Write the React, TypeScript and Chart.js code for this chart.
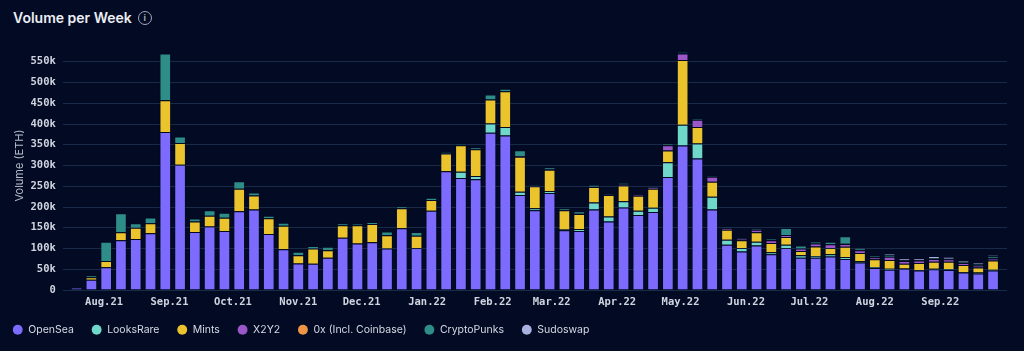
import { useEffect, useRef } from 'react';
import { Chart, registerables } from 'chart.js';

Chart.register(...registerables);

// Weekly bars, first week starting Monday 2021-07-19 (values in thousands of ETH)
const firstWeek = '2021-07-19';

const monthTickDates = [
  '2021-08-01', '2021-09-01', '2021-10-01', '2021-11-01', '2021-12-01',
  '2022-01-01', '2022-02-01', '2022-03-01', '2022-04-01', '2022-05-01',
  '2022-06-01', '2022-07-01', '2022-08-01', '2022-09-01',
];
const monthTickLabels = [
  'Aug.21', 'Sep.21', 'Oct.21', 'Nov.21', 'Dec.21',
  'Jan.22', 'Feb.22', 'Mar.22', 'Apr.22', 'May.22',
  'Jun.22', 'Jul.22', 'Aug.22', 'Sep.22',
];

const yTickValues = [0, 50, 100, 150, 200, 250, 300, 350, 400, 450, 500, 550];

const openSea = [
  6, 25, 55, 120, 123, 137, 381, 302, 140, 153,
  142, 190, 194, 135, 98, 64, 63, 78, 126, 112,
  115, 100, 149, 101, 191, 286, 270, 267, 379, 372,
  229, 192, 234, 144, 142, 194, 165, 199, 181, 188,
  272, 348, 317, 194, 109, 93, 107, 86, 101, 78,
  78, 81, 75, 66, 53, 49, 51, 47, 50, 48,
  42, 40, 47,
];
const looksRare = [
  0, 0, 0, 0, 0, 0, 0, 0, 0, 0,
  0, 0, 0, 0, 0, 0, 0, 0, 0, 0,
  0, 0, 0, 0, 0, 0, 15, 8, 22, 21,
  8, 5, 4, 2, 5, 17, 12, 15, 10, 10,
  36, 50, 36, 31, 12, 8, 9, 5, 8, 6,
  4, 5, 4, 3, 2, 2, 1, 1, 1, 2,
  1, 2, 2,
];
const mints = [
  0, 6, 15, 19, 27, 24, 76, 52, 25, 26,
  32, 54, 34, 38, 57, 20, 37, 18, 30, 44,
  44, 32, 48, 30, 26, 43, 64, 64, 58, 86,
  84, 53, 52, 46, 36, 37, 52, 38, 36, 46,
  28, 156, 40, 36, 24, 19, 23, 22, 19, 10,
  23, 15, 25, 20, 19, 21, 11, 17, 17, 18,
  17, 12, 22,
];
const x2y2 = [
  0, 0, 0, 0, 0, 0, 0, 0, 0, 0,
  0, 0, 0, 0, 0, 0, 0, 0, 0, 0,
  0, 0, 0, 0, 0, 0, 0, 0, 0, 0,
  1, 1, 1, 1, 1, 1, 1, 2, 3, 3,
  13, 16, 17, 12, 4, 3, 6, 7, 4, 6,
  7, 9, 7, 7, 5, 8, 7, 6, 7, 6,
  5, 5, 5,
];
const zeroX = [
  0, 0, 0, 0, 0, 0, 0, 0, 0, 0,
  0, 0, 0, 0, 0, 0, 0, 0, 0, 0,
  0, 0, 0, 0, 0, 0, 0, 0, 0, 0,
  0, 0, 0, 0, 0, 0, 0, 0, 0, 0,
  0.3, 0.3, 0.3, 0.3, 0.3, 0.3, 0.3, 0.3, 0.3, 0.3,
  0.3, 0.3, 0.3, 0.3, 0.3, 0.3, 0.3, 0.3, 0.3, 0.3,
  0.3, 0.3, 0.3,
];
const cryptoPunks = [
  0, 4, 46, 46, 11, 14, 113, 16, 7, 13,
  12, 18, 7, 6, 7, 8, 6, 8, 5, 4,
  5, 9, 5, 9, 5, 3, 2, 5, 12, 6,
  15, 2, 5, 3, 6, 4, 2, 4, 1, 2,
  3, 3, 2, 3, 2, 2, 2, 3, 17, 7,
  4, 6, 18, 4, 3, 4, 2, 1, 2, 1,
  2, 3, 5,
];
const sudoswap = [
  0, 0, 0, 0, 0, 0, 0, 0, 0, 0,
  0, 0, 0, 0, 0, 0, 0, 0, 0, 0,
  0, 0, 0, 0, 0, 0, 0, 0, 0, 0,
  0, 0, 0, 0, 0, 0, 0, 0, 0, 0,
  0, 0, 0, 0, 0, 0, 0, 0, 0, 0,
  0, 0, 0, 1, 1, 3, 4, 4, 4, 5,
  3, 3, 3,
];

const seriesNames = ['OpenSea', 'LooksRare', 'Mints', 'X2Y2', '0x (Incl. Coinbase)', 'CryptoPunks', 'Sudoswap'];
const seriesValues = [openSea, looksRare, mints, x2y2, zeroX, cryptoPunks, sudoswap];
const seriesColors = ['#7c6bfd', '#6fd8cb', '#ebc32d', '#9b56c8', '#ee9545', '#2f8d87', '#a9b1df'];

const DAY_MS = 86400000;
const dayOffset = (iso: string) =>
  (Date.parse(iso + 'T00:00:00Z') - Date.parse(firstWeek + 'T00:00:00Z')) / DAY_MS;

export default function App() {
  const canvasRef = useRef<HTMLCanvasElement | null>(null);

  useEffect(() => {
    const canvas = canvasRef.current;
    if (!canvas) return;
    const weekDays = openSea.map((_, i) => i * 7);
    const tickFont = { family: '"DejaVu Sans Mono", monospace', size: 10.5, weight: 'bold' as const };

    const chart = new Chart(canvas, {
      type: 'bar',
      data: {
        labels: weekDays,
        datasets: seriesNames.map((name, k) => ({
          label: name,
          data: seriesValues[k],
          backgroundColor: seriesColors[k],
          borderColor: 'rgba(2, 10, 34, 0.35)',
          borderWidth: 1,
          categoryPercentage: 1,
          barPercentage: 0.79,
        })),
      },
      options: {
        animation: false,
        responsive: false,
        devicePixelRatio: 1,
        layout: { padding: { left: -5, right: 17, top: 41, bottom: 6 } },
        plugins: {
          tooltip: { enabled: false },
          legend: {
            position: 'bottom',
            align: 'start',
            labels: {
              usePointStyle: true,
              pointStyle: 'circle',
              boxWidth: 12,
              boxHeight: 7,
              padding: 17.5,
              color: '#d6dae6',
              font: { family: 'Inter, "Noto Sans", sans-serif', size: 10.5 },
              generateLabels: (c: any) =>
                Chart.defaults.plugins.legend.labels
                  .generateLabels(c)
                  .map((l: any) => ({ ...l, lineWidth: 0, strokeStyle: 'rgba(0,0,0,0)' })),
            },
          },
        },
        scales: {
          x: {
            type: 'linear',
            offset: false,
            stacked: true,
            min: -6.3,
            max: 440.6,
            grid: { display: false, drawTicks: false },
            border: { display: false },
            afterBuildTicks: (scale: any) => {
              scale.ticks = monthTickDates.map((d) => ({ value: dayOffset(d) }));
            },
            afterFit: (scale: any) => {
              scale.height = 17;
            },
            ticks: {
              autoSkip: false,
              maxRotation: 0,
              padding: 5.5,
              color: '#d0d4e0',
              font: tickFont,
              callback: (_v: any, i: number) => monthTickLabels[i],
            },
          },
          y: {
            stacked: true,
            min: 0,
            max: 600,
            grid: { color: '#172a48', lineWidth: 1, drawTicks: false },
            border: { display: false },
            afterBuildTicks: (scale: any) => {
              scale.ticks = yTickValues.map((v) => ({ value: v }));
            },
            afterFit: (scale: any) => {
              scale.width = 68.3;
            },
            title: {
              display: true,
              text: 'Volume (ETH)',
              color: '#b9bdcc',
              font: { family: 'Inter, "Noto Sans", sans-serif', size: 11 },
              padding: { top: 18, bottom: 0 },
            },
            ticks: {
              padding: 7.5,
              color: '#d0d4e0',
              font: tickFont,
              callback: (v: any) => (Number(v) === 0 ? '0' : `${v}k`),
            },
          },
        },
      },
    });
    return () => chart.destroy();
  }, []);

  return (
    <div
      style={{
        position: 'fixed',
        left: 0,
        top: 0,
        width: 1024,
        height: 351,
        background: '#020b23',
        overflow: 'hidden',
      }}
    >
      <div
        style={{
          position: 'absolute',
          left: 13,
          top: 8,
          display: 'flex',
          alignItems: 'center',
          gap: 6,
          fontFamily: 'Inter, "Noto Sans", sans-serif',
          fontWeight: 600,
          fontSize: 14,
          color: '#eceef4',
          lineHeight: '20px',
        }}
      >
        <span>Volume per Week</span>
        <span
          style={{
            display: 'inline-flex',
            alignItems: 'center',
            justifyContent: 'center',
            width: 12,
            height: 12,
            borderRadius: '50%',
            border: '1.5px solid #a3a8b8',
            color: '#a3a8b8',
            fontSize: 9,
            fontWeight: 700,
            lineHeight: '12px',
          }}
        >
          i
        </span>
      </div>
      <canvas ref={canvasRef} width={1024} height={351} style={{ position: 'absolute', left: 0, top: 0 }} />
    </div>
  );
}
